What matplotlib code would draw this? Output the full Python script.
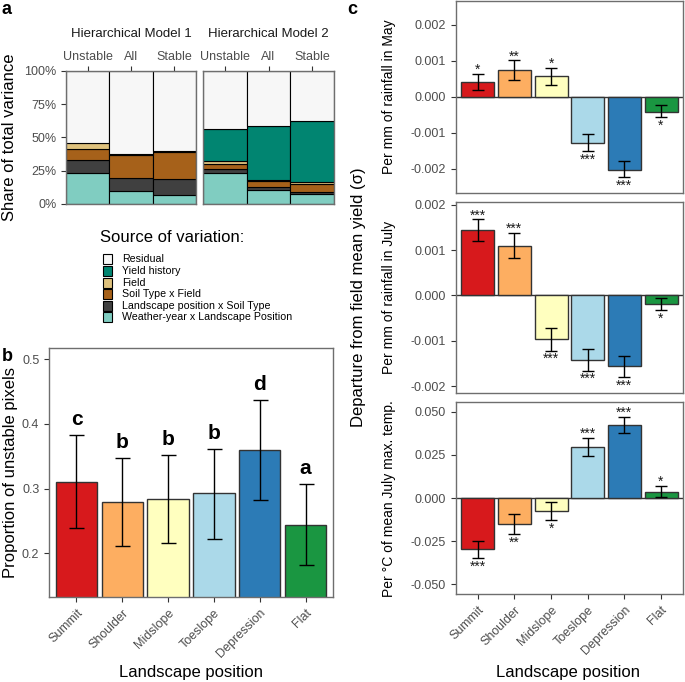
import matplotlib
matplotlib.use("Agg")
import matplotlib.pyplot as plt
from matplotlib.patches import Rectangle
import numpy as np

plt.rcParams['font.family'] = ['Liberation Sans', 'DejaVu Sans']

# ---------------- data ----------------
positions = ['Summit', 'Shoulder', 'Midslope', 'Toeslope', 'Depression', 'Flat']
pos_colors = ['#D7191C', '#FDAE61', '#FFFFBF', '#ABD9E9', '#2C7BB6', '#1A9641']

# panel a: share of total variance (%)
groups = ['Unstable', 'All', 'Stable']
components = ['Weather-year x Landscape Position', 'Landscape position x Soil Type',
              'Soil Type x Field', 'Field', 'Yield history', 'Residual']
comp_colors = ['#80CDC1', '#404040', '#A6611A', '#DFC27D', '#018571', '#F7F7F7']
hm1_weather = [23.5, 9.5, 6.5]
hm1_lxs = [9.4, 10.3, 12.0]
hm1_sxf = [8.7, 16.8, 20.3]
hm1_field = [4.0, 1.3, 0.7]
hm1_yield = [0.0, 0.0, 0.0]
hm2_weather = [23.5, 10.5, 7.3]
hm2_lxs = [2.5, 2.0, 2.0]
hm2_sxf = [3.8, 5.0, 5.5]
hm2_field = [2.5, 0.5, 1.5]
hm2_yield = [23.9, 40.9, 45.9]

# panel b
b_prop = [0.311, 0.280, 0.284, 0.293, 0.360, 0.244]
b_lo = [0.239, 0.212, 0.2155, 0.2225, 0.282, 0.182]
b_hi = [0.383, 0.348, 0.352, 0.362, 0.437, 0.307]
b_letters = ['c', 'b', 'b', 'b', 'd', 'a']

# panel c
may = [0.00041, 0.00075, 0.00057, -0.00128, -0.00202, -0.00041]
may_lo = [0.00018, 0.00048, 0.00033, -0.00151, -0.00222, -0.00056]
may_hi = [0.00063, 0.00101, 0.00080, -0.00104, -0.00179, -0.00024]
may_sig = ['*', '**', '*', '***', '***', '*']

july = [0.00144, 0.00110, -0.00097, -0.00143, -0.00156, -0.00019]
july_lo = [0.00120, 0.00083, -0.00122, -0.00166, -0.00180, -0.00032]
july_hi = [0.00168, 0.00138, -0.00072, -0.00118, -0.00133, -0.00005]
july_sig = ['***', '***', '***', '***', '***', '*']

temp = [-0.0295, -0.0151, -0.0076, 0.0298, 0.0424, 0.0037]
temp_lo = [-0.0347, -0.0209, -0.0128, 0.0246, 0.0378, 0.0006]
temp_hi = [-0.0248, -0.0093, -0.0021, 0.0349, 0.0471, 0.0072]
temp_sig = ['***', '**', '*', '***', '***', '*']

# ---------------- figure ----------------
W, H = 685, 682
fig = plt.figure(figsize=(W / 100, H / 100), dpi=100)

FRAME = '#6E6E6E'
TICKC = '#333333'
LABC = '#4D4D4D'
TICKFS = 9


def px_axes(l, t, r, b):
    return fig.add_axes([l / W, 1 - b / H, (r - l) / W, (b - t) / H])


def style(ax):
    for s in ax.spines.values():
        s.set_color(FRAME)
        s.set_linewidth(1.0)
    ax.tick_params(colors=TICKC, labelcolor=LABC, labelsize=TICKFS, length=3.5, width=0.8)


# ---- panel a ----
def stack_panel(ax, data):
    x = np.arange(1, 4)
    cum = np.zeros(3)
    for vals, col in zip(data, comp_colors[:-1]):
        v = np.array(vals, dtype=float)
        mask = v > 0
        ax.bar(x[mask], v[mask], bottom=cum[mask], width=1.0, color=col,
               edgecolor='black', linewidth=0.8)
        cum = cum + v
    resid = 100 - cum
    ax.bar(x, resid, bottom=cum, width=1.0, color=comp_colors[-1], edgecolor='black', linewidth=0.8)
    ax.set_xlim(0.5, 3.5)
    ax.set_ylim(0, 100)
    ax.xaxis.tick_top()
    ax.set_xticks(x)
    ax.set_xticklabels(groups)
    style(ax)
    ax.tick_params(axis='x', pad=2)


axa1 = px_axes(66, 71, 196, 204)
stack_panel(axa1, [hm1_weather, hm1_lxs, hm1_sxf, hm1_field, hm1_yield])
axa1.set_yticks([0, 25, 50, 75, 100])
axa1.set_yticklabels(['0%', '25%', '50%', '75%', '100%'])

axa2 = px_axes(203, 71, 334, 204)
stack_panel(axa2, [hm2_weather, hm2_lxs, hm2_sxf, hm2_field, hm2_yield])
axa2.set_yticks([])

fig.text(131 / W, 1 - 34 / H, 'Hierarchical Model 1', ha='center', va='center', fontsize=9.5, color='#1A1A1A')
fig.text(268 / W, 1 - 34 / H, 'Hierarchical Model 2', ha='center', va='center', fontsize=9.5, color='#1A1A1A')
fig.text(10 / W, 1 - 137 / H, 'Share of total variance', rotation=90, ha='center', va='center', fontsize=12)
fig.text(1 / W, 1 - 14 / H, 'a', fontweight='bold', fontsize=13, ha='left', va='baseline')

# legend (manual)
fig.text(100 / W, 1 - 237 / H, 'Source of variation:', fontsize=12, ha='left', va='center')
leg_order = list(range(len(components)))[::-1]
for i, k in enumerate(leg_order):
    yc = 259.3 + 11.6 * i
    fig.add_artist(Rectangle((103 / W, 1 - (yc + 5) / H), 9 / W, 10 / H, transform=fig.transFigure,
                             facecolor=comp_colors[k], edgecolor='black', linewidth=0.8))
    fig.text(122 / W, 1 - yc / H, components[k], fontsize=7.7, ha='left', va='center')

# ---- panel b ----
axb = px_axes(49, 348, 333, 597)
xb = np.arange(1, 7)
axb.bar(xb, b_prop, width=0.9, color=pos_colors, edgecolor='#333333', linewidth=1.0)
yerr = [np.array(b_prop) - np.array(b_lo), np.array(b_hi) - np.array(b_prop)]
axb.errorbar(xb, b_prop, yerr=yerr, fmt='none', ecolor='black', elinewidth=1.0, capsize=5.4, capthick=1.0)
for xi, hi, lab in zip(xb, b_hi, b_letters):
    axb.annotate(lab, (xi, hi), xytext=(0, 7), textcoords='offset points', ha='center', va='baseline',
                 fontsize=15, fontweight='bold')
axb.set_xlim(0.4, 6.6)
axb.set_ylim(0.1325, 0.5175)
axb.set_yticks([0.2, 0.3, 0.4, 0.5])
axb.set_yticklabels(['0.2', '0.3', '0.4', '0.5'])
axb.set_xticks(xb)
axb.set_xticklabels(positions, rotation=45, ha='right', rotation_mode='anchor')
style(axb)
fig.text(11 / W, 1 - 472 / H, 'Proportion of unstable pixels', rotation=90, ha='center', va='center', fontsize=12)
fig.text(191 / W, 1 - 672 / H, 'Landscape position', ha='center', va='center', fontsize=12)
fig.text(2 / W, 1 - 361 / H, 'b', fontweight='bold', fontsize=13, ha='left', va='baseline')


# ---- panel c ----
def c_panel(ax, vals, lo, hi, sig, ylim, ticks, ticklabels, ylabel, bottom=False):
    x = np.arange(1, 7)
    ax.axhline(0, color='#333333', linewidth=1.0, zorder=1)
    ax.bar(x, vals, width=0.9, color=pos_colors, edgecolor='#333333', linewidth=1.0, zorder=2)
    v = np.array(vals)
    err = [v - np.array(lo), np.array(hi) - v]
    ax.errorbar(x, vals, yerr=err, fmt='none', ecolor='black', elinewidth=1.0, capsize=4.2, capthick=1.0, zorder=3)
    for xi, vi, l, h, s in zip(x, vals, lo, hi, sig):
        if vi >= 0:
            ax.annotate(s, (xi, h), xytext=(0, 0), textcoords='offset points', ha='center', va='baseline',
                        fontsize=10, color='#1A1A1A')
        else:
            ax.annotate(s, (xi, l), xytext=(0, -9), textcoords='offset points', ha='center', va='baseline',
                        fontsize=10, color='#1A1A1A')
    ax.set_xlim(0.4, 6.6)
    ax.set_ylim(*ylim)
    ax.set_yticks(ticks)
    ax.set_yticklabels(ticklabels)
    style(ax)
    if bottom:
        ax.set_xticks(x)
        ax.set_xticklabels(positions, rotation=45, ha='right', rotation_mode='anchor')
    else:
        ax.set_xticks([])
    cy = (ax.get_position().y0 + ax.get_position().y1) / 2
    fig.text(389 / W, cy, ylabel, rotation=90, ha='center', va='center', fontsize=10)


axc1 = px_axes(455.7, 1, 683, 192.7)
c_panel(axc1, may, may_lo, may_hi, may_sig, (-0.00266, 0.00266),
        [-0.002, -0.001, 0, 0.001, 0.002], ['-0.002', '-0.001', '0.000', '0.001', '0.002'],
        'Per mm of rainfall in May')
axc2 = px_axes(455.7, 201.7, 683, 393.3)
c_panel(axc2, july, july_lo, july_hi, july_sig, (-0.00216, 0.00207),
        [-0.002, -0.001, 0, 0.001, 0.002], ['-0.002', '-0.001', '0.000', '0.001', '0.002'],
        'Per mm of rainfall in July')
axc3 = px_axes(455.7, 402.3, 683, 594)
c_panel(axc3, temp, temp_lo, temp_hi, temp_sig, (-0.0556, 0.0555),
        [-0.05, -0.025, 0, 0.025, 0.05], ['-0.050', '-0.025', '0.000', '0.025', '0.050'],
        'Per °C of mean July max. temp.', bottom=True)

fig.text(358 / W, 1 - 297.5 / H, 'Departure from field mean yield (σ)', rotation=90, ha='center', va='center', fontsize=12)
fig.text(568 / W, 1 - 672 / H, 'Landscape position', ha='center', va='center', fontsize=12)
fig.text(347 / W, 1 - 13.5 / H, 'c', fontweight='bold', fontsize=13, ha='left', va='baseline')

fig.savefig('out.png', dpi=100)
